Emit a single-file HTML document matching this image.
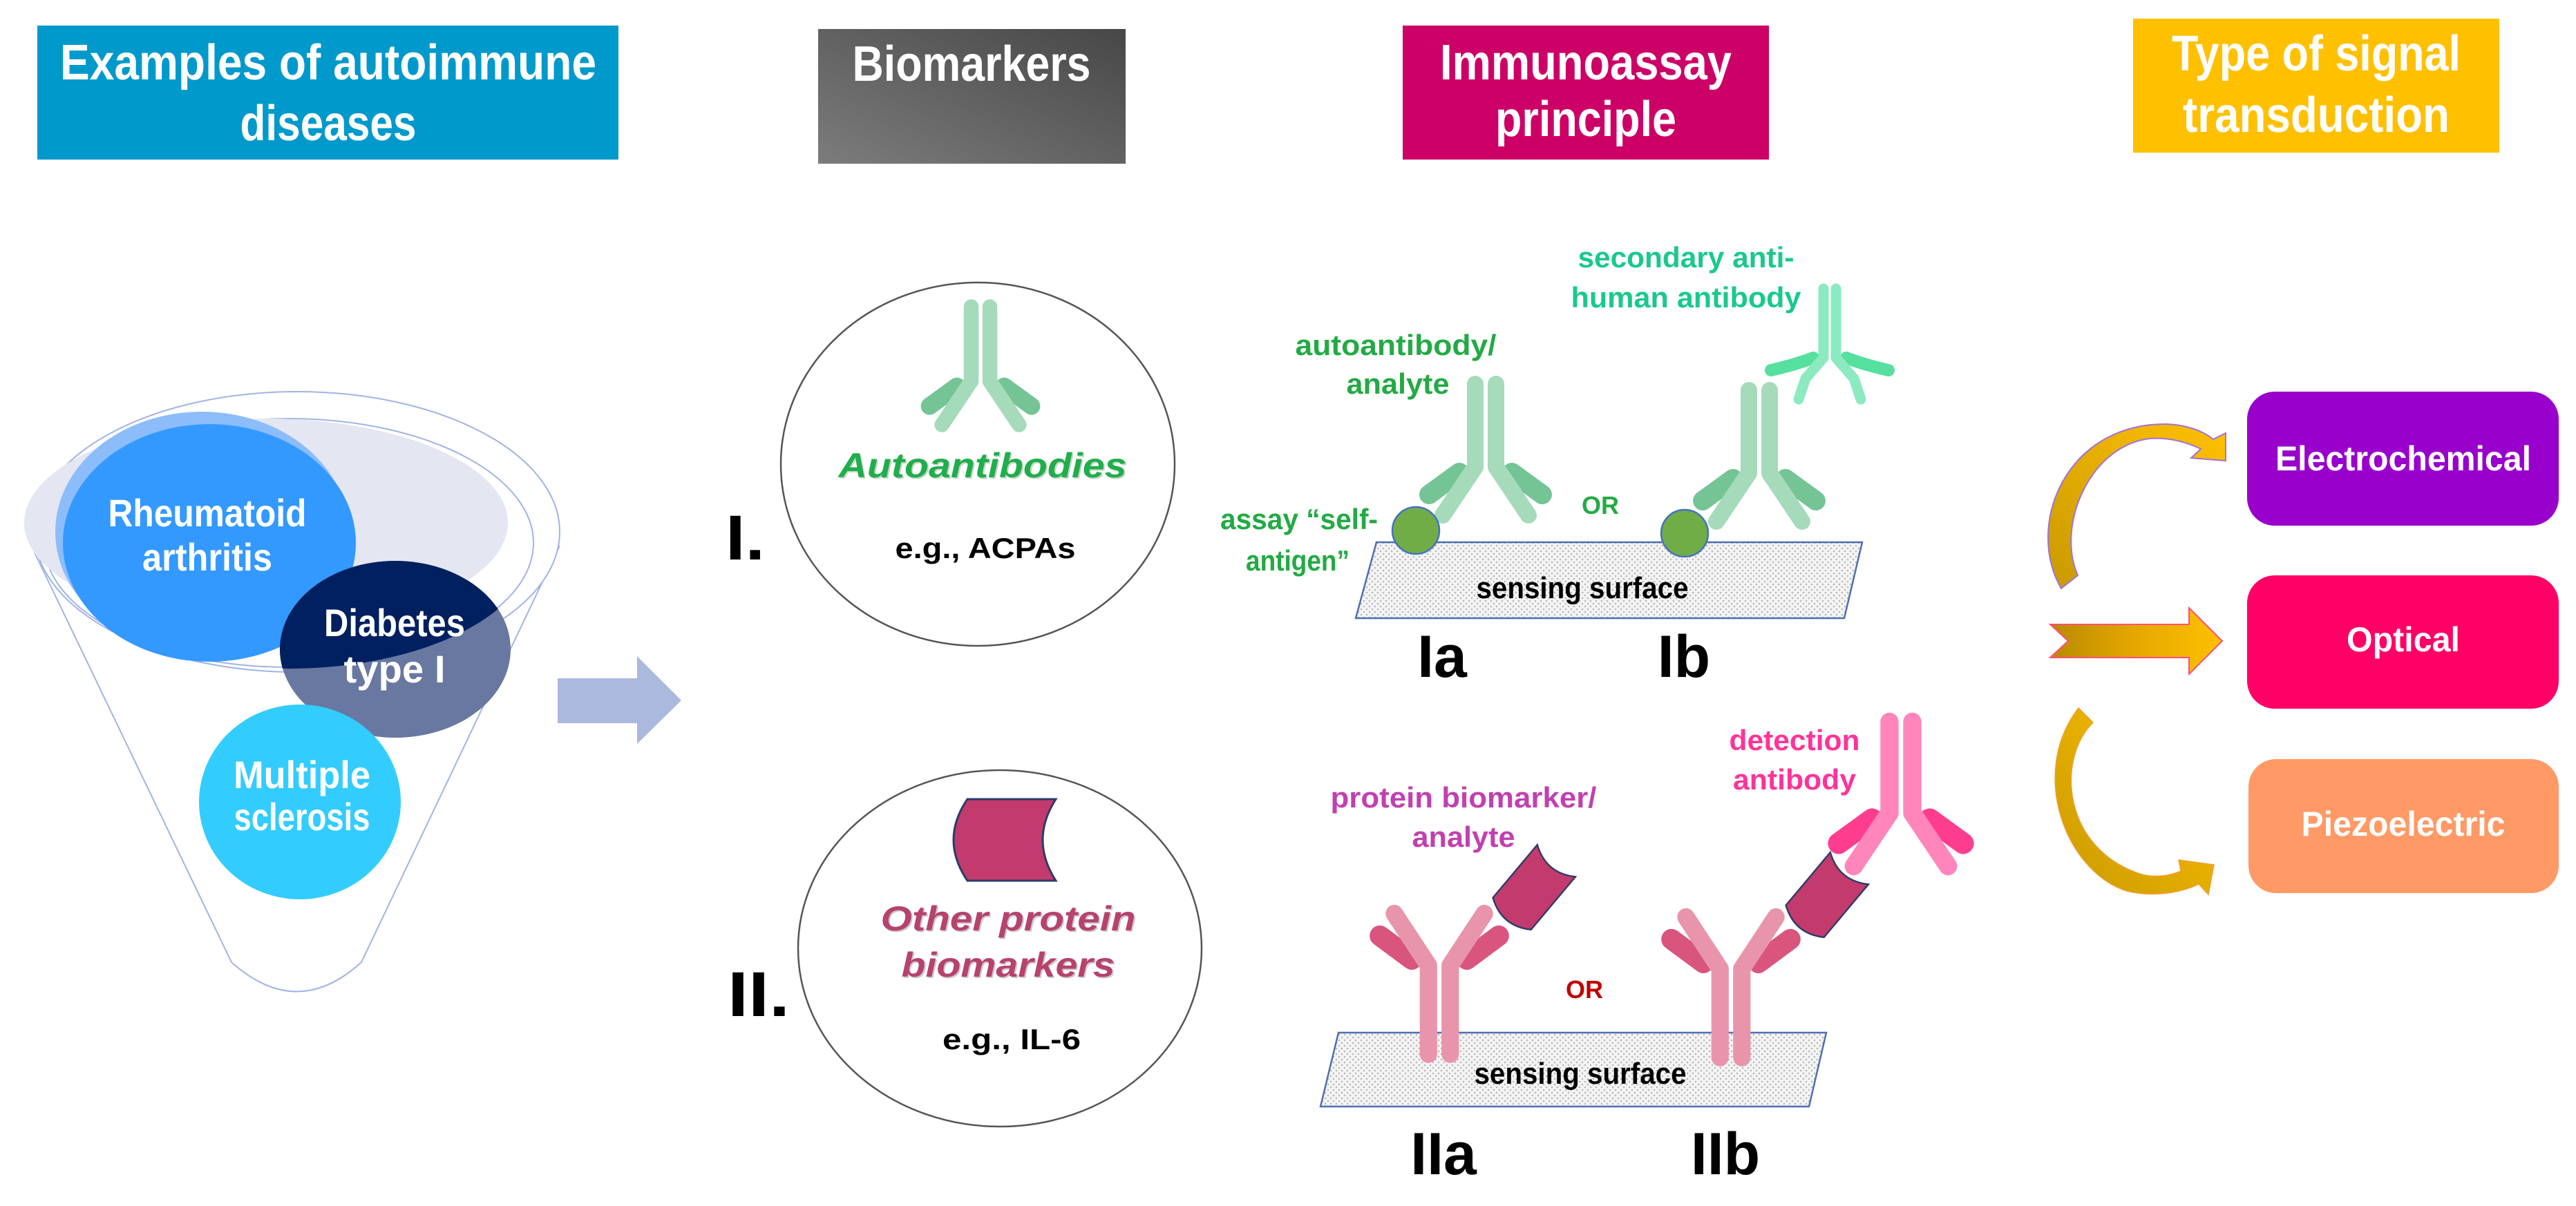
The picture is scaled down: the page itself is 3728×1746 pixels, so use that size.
<!DOCTYPE html>
<html><head><meta charset="utf-8"><style>
html,body{margin:0;padding:0;background:#fff;}
svg{display:block;}
text{font-family:"Liberation Sans",sans-serif;font-weight:bold;}
</style></head><body>
<svg width="3728" height="1746" viewBox="0 0 3728 1746" xmlns="http://www.w3.org/2000/svg">
<defs>
<linearGradient id="gray" x1="0" y1="1" x2="1" y2="0"><stop offset="0" stop-color="#7c7c7c"/><stop offset="1" stop-color="#474747"/></linearGradient>
<linearGradient id="gold" x1="0" y1="0" x2="1" y2="0"><stop offset="0" stop-color="#b88a00"/><stop offset="0.5" stop-color="#e6a800"/><stop offset="1" stop-color="#ffc000"/></linearGradient>
<linearGradient id="goldv" x1="0" y1="1" x2="1" y2="0"><stop offset="0" stop-color="#c99a00"/><stop offset="1" stop-color="#ffc000"/></linearGradient>
<pattern id="dots" width="8" height="8" patternUnits="userSpaceOnUse"><rect width="8" height="8" fill="#f4f4f4"/><circle cx="2" cy="2" r="1.3" fill="#b8b8b8"/><circle cx="6" cy="6" r="1.3" fill="#b8b8b8"/></pattern>
<g id="abInv">
  <path d="M-15 0 L-15 120 L-62 190" fill="none" stroke="VAR" stroke-width="24" stroke-linecap="round"/>
</g>
</defs>

<!-- Headers -->
<rect x="54" y="37" width="841" height="194" fill="#0099cc"/>
<text x="475" y="115" font-size="72" fill="#fff" text-anchor="middle" textLength="776" lengthAdjust="spacingAndGlyphs">Examples of autoimmune</text>
<text x="475" y="203" font-size="72" fill="#fff" text-anchor="middle" textLength="255" lengthAdjust="spacingAndGlyphs">diseases</text>

<rect x="1184" y="42" width="445" height="195" fill="url(#gray)"/>
<text x="1406" y="117" font-size="72" fill="#fff" text-anchor="middle" textLength="345" lengthAdjust="spacingAndGlyphs">Biomarkers</text>

<rect x="2030" y="37" width="530" height="194" fill="#cc0066"/>
<text x="2295" y="115" font-size="72" fill="#fff" text-anchor="middle" textLength="422" lengthAdjust="spacingAndGlyphs">Immunoassay</text>
<text x="2295" y="197" font-size="72" fill="#fff" text-anchor="middle" textLength="262" lengthAdjust="spacingAndGlyphs">principle</text>

<rect x="3087" y="27" width="530" height="194" fill="#ffc000"/>
<text x="3352" y="102" font-size="72" fill="#fff" text-anchor="middle" textLength="418" lengthAdjust="spacingAndGlyphs">Type of signal</text>
<text x="3352" y="191" font-size="72" fill="#fff" text-anchor="middle" textLength="386" lengthAdjust="spacingAndGlyphs">transduction</text>

<!-- Funnel -->
<path d="M50 800 L335 1393 Q430 1478 523 1393 L810 790" fill="none" stroke="#9fb4e6" stroke-width="2"/>
<ellipse cx="430" cy="770" rx="380" ry="203" fill="#fff" stroke="#9fb4e6" stroke-width="2"/>
<ellipse cx="418" cy="786" rx="354" ry="180" fill="none" stroke="#9fb4e6" stroke-width="2"/>
<ellipse cx="385" cy="757" rx="350" ry="151" fill="#e4e6f2"/>
<ellipse cx="292" cy="770" rx="212" ry="174" fill="#8cbdfa"/>
<ellipse cx="303" cy="786" rx="212" ry="172" fill="#3399ff"/>
<clipPath id="dclip"><rect x="0" y="0" width="900" height="1500"/></clipPath>
<ellipse cx="572" cy="940" rx="167" ry="128" fill="#6878a0"/>
<clipPath id="dtop"><ellipse cx="418" cy="786" rx="356" ry="182"/></clipPath>
<ellipse cx="572" cy="940" rx="167" ry="128" fill="#002060" clip-path="url(#dtop)"/>
<ellipse cx="303" cy="786" rx="212" ry="172" fill="#3399ff" clip-path="url(#dtop)" opacity="0"/>
<ellipse cx="434" cy="1161" rx="146" ry="141" fill="#33ccff"/>
<text x="300" y="762" font-size="56" fill="#fff" text-anchor="middle" textLength="287" lengthAdjust="spacingAndGlyphs">Rheumatoid</text>
<text x="300" y="826" font-size="56" fill="#fff" text-anchor="middle" textLength="188" lengthAdjust="spacingAndGlyphs">arthritis</text>
<text x="571" y="921" font-size="56" fill="#fff" text-anchor="middle" textLength="204" lengthAdjust="spacingAndGlyphs">Diabetes</text>
<text x="571" y="988" font-size="56" fill="#fff" text-anchor="middle" textLength="147" lengthAdjust="spacingAndGlyphs">type I</text>
<text x="437" y="1141" font-size="56" fill="#fff" text-anchor="middle" textLength="198" lengthAdjust="spacingAndGlyphs">Multiple</text>
<text x="437" y="1202" font-size="56" fill="#fff" text-anchor="middle" textLength="197" lengthAdjust="spacingAndGlyphs">sclerosis</text>

<!-- big arrow -->
<polygon points="807,982 922,982 922,950 986,1014 922,1077 922,1047 807,1047" fill="#abb9de"/>

<!-- Circle I -->
<ellipse cx="1415" cy="672" rx="285" ry="263" fill="#fff" stroke="#555" stroke-width="2.5"/>
<g transform="translate(1419,444) scale(0.9)">
  <path d="M-38 128 L-82 160" stroke="#74c495" stroke-width="28" stroke-linecap="round"/>
  <path d="M38 128 L82 160" stroke="#74c495" stroke-width="28" stroke-linecap="round"/>
  <path d="M-15 0 L-15 120 L-62 190" fill="none" stroke="#a5dbba" stroke-width="24" stroke-linecap="round" stroke-linejoin="round"/>
  <path d="M15 0 L15 120 L62 190" fill="none" stroke="#a5dbba" stroke-width="24" stroke-linecap="round" stroke-linejoin="round"/>
</g>
<text x="1424" y="693" font-size="50" fill="#9a9" opacity="0.5" font-style="italic" text-anchor="middle" textLength="417" lengthAdjust="spacingAndGlyphs">Autoantibodies</text>
<text x="1422" y="691" font-size="50" fill="#1fae4b" font-style="italic" text-anchor="middle" textLength="417" lengthAdjust="spacingAndGlyphs">Autoantibodies</text>
<text x="1426" y="808" font-size="42" fill="#000" text-anchor="middle" textLength="261" lengthAdjust="spacingAndGlyphs">e.g., ACPAs</text>
<text x="1050" y="810" font-size="92" fill="#000" textLength="57" lengthAdjust="spacingAndGlyphs">I.</text>

<!-- Circle II -->
<ellipse cx="1447" cy="1373" rx="292" ry="258" fill="#fff" stroke="#555" stroke-width="2.5"/>
<path d="M1400 1157 L1528 1157 Q1490 1216 1528 1275 L1400 1275 Q1360 1216 1400 1157 Z" fill="#c23b6c" stroke="#2f3a6a" stroke-width="3"/>
<text x="1461" y="1349" font-size="50" fill="#999" opacity="0.5" font-style="italic" text-anchor="middle" textLength="369" lengthAdjust="spacingAndGlyphs">Other protein</text>
<text x="1459" y="1347" font-size="50" fill="#b6426d" font-style="italic" text-anchor="middle" textLength="369" lengthAdjust="spacingAndGlyphs">Other protein</text>
<text x="1461" y="1416" font-size="50" fill="#999" opacity="0.5" font-style="italic" text-anchor="middle" textLength="309" lengthAdjust="spacingAndGlyphs">biomarkers</text>
<text x="1459" y="1414" font-size="50" fill="#b6426d" font-style="italic" text-anchor="middle" textLength="309" lengthAdjust="spacingAndGlyphs">biomarkers</text>
<text x="1464" y="1519" font-size="42" fill="#000" text-anchor="middle" textLength="200" lengthAdjust="spacingAndGlyphs">e.g., IL-6</text>
<text x="1053" y="1471" font-size="92" fill="#000" textLength="90" lengthAdjust="spacingAndGlyphs">II.</text>

<!-- Sensing surface I -->
<polygon points="1992,785 2695,785 2669,895 1962,895" fill="url(#dots)" stroke="#4f6fb0" stroke-width="2.5"/>
<text x="2290" y="866" font-size="44" fill="#000" text-anchor="middle" textLength="307" lengthAdjust="spacingAndGlyphs">sensing surface</text>
<!-- Ia antibody -->
<g transform="translate(2150,556)">
  <path d="M-38 128 L-82 160" stroke="#74c495" stroke-width="28" stroke-linecap="round"/>
  <path d="M38 128 L82 160" stroke="#74c495" stroke-width="28" stroke-linecap="round"/>
  <path d="M-15 0 L-15 120 L-62 190" fill="none" stroke="#a5dbba" stroke-width="24" stroke-linecap="round" stroke-linejoin="round"/>
  <path d="M15 0 L15 120 L62 190" fill="none" stroke="#a5dbba" stroke-width="24" stroke-linecap="round" stroke-linejoin="round"/>
</g>
<g transform="translate(2546,565)">
  <path d="M-38 128 L-82 160" stroke="#74c495" stroke-width="28" stroke-linecap="round"/>
  <path d="M38 128 L82 160" stroke="#74c495" stroke-width="28" stroke-linecap="round"/>
  <path d="M-15 0 L-15 120 L-62 190" fill="none" stroke="#a5dbba" stroke-width="24" stroke-linecap="round" stroke-linejoin="round"/>
  <path d="M15 0 L15 120 L62 190" fill="none" stroke="#a5dbba" stroke-width="24" stroke-linecap="round" stroke-linejoin="round"/>
</g>
<!-- secondary antibody -->
<g transform="translate(2648,418)">
  <path d="M-24 100 Q-50 110 -85 118" fill="none" stroke="#55e0a0" stroke-width="18" stroke-linecap="round"/>
  <path d="M24 100 Q50 110 85 118" fill="none" stroke="#55e0a0" stroke-width="18" stroke-linecap="round"/>
  <path d="M-9 0 L-9 100 L-35 130 L-45 160" fill="none" stroke="#8ceac0" stroke-width="15" stroke-linecap="round" stroke-linejoin="round"/>
  <path d="M9 0 L9 100 L35 130 L45 160" fill="none" stroke="#8ceac0" stroke-width="15" stroke-linecap="round" stroke-linejoin="round"/>
</g>
<circle cx="2049" cy="768" r="34" fill="#70ad47" stroke="#4472c4" stroke-width="2.5"/>
<circle cx="2438" cy="772" r="34" fill="#70ad47" stroke="#4472c4" stroke-width="2.5"/>

<text x="2020" y="514" font-size="42" fill="#22aa44" text-anchor="middle" textLength="291" lengthAdjust="spacingAndGlyphs">autoantibody/</text>
<text x="2023" y="570" font-size="42" fill="#22aa44" text-anchor="middle" textLength="149" lengthAdjust="spacingAndGlyphs">analyte</text>
<text x="1880" y="766" font-size="42" fill="#22aa44" text-anchor="middle" textLength="228" lengthAdjust="spacingAndGlyphs">assay “self-</text>
<text x="1878" y="826" font-size="42" fill="#22aa44" text-anchor="middle" textLength="150" lengthAdjust="spacingAndGlyphs">antigen”</text>
<text x="2440" y="387" font-size="42" fill="#19c98a" text-anchor="middle" textLength="313" lengthAdjust="spacingAndGlyphs">secondary anti-</text>
<text x="2440" y="445" font-size="42" fill="#19c98a" text-anchor="middle" textLength="333" lengthAdjust="spacingAndGlyphs">human antibody</text>
<text x="2316" y="744" font-size="36" fill="#22aa44" text-anchor="middle">OR</text>
<text x="2087" y="980" font-size="86" fill="#000" text-anchor="middle">Ia</text>
<text x="2437" y="980" font-size="86" fill="#000" text-anchor="middle">Ib</text>

<!-- Sensing surface II -->
<polygon points="1937,1495 2643,1495 2618,1602 1911,1602" fill="url(#dots)" stroke="#4f6fb0" stroke-width="2.5"/>
<text x="2287" y="1569" font-size="44" fill="#000" text-anchor="middle" textLength="307" lengthAdjust="spacingAndGlyphs">sensing surface</text>
<g transform="translate(2083,1526) scale(1.05,-1.07)">
  <path d="M-38 128 L-82 160" stroke="#d9557e" stroke-width="28" stroke-linecap="round"/>
  <path d="M38 128 L82 160" stroke="#d9557e" stroke-width="28" stroke-linecap="round"/>
  <path d="M-15 0 L-15 120 L-62 190" fill="none" stroke="#e895ab" stroke-width="24" stroke-linecap="round" stroke-linejoin="round"/>
  <path d="M15 0 L15 120 L62 190" fill="none" stroke="#e895ab" stroke-width="24" stroke-linecap="round" stroke-linejoin="round"/>
</g>
<g transform="translate(2505,1531) scale(1.05,-1.07)">
  <path d="M-38 128 L-82 160" stroke="#d9557e" stroke-width="28" stroke-linecap="round"/>
  <path d="M38 128 L82 160" stroke="#d9557e" stroke-width="28" stroke-linecap="round"/>
  <path d="M-15 0 L-15 120 L-62 190" fill="none" stroke="#e895ab" stroke-width="24" stroke-linecap="round" stroke-linejoin="round"/>
  <path d="M15 0 L15 120 L62 190" fill="none" stroke="#e895ab" stroke-width="24" stroke-linecap="round" stroke-linejoin="round"/>
</g>
<!-- detection antibody -->
<g transform="translate(2751,1045) scale(1.1)">
  <path d="M-38 128 L-82 160" stroke="#ff3d8e" stroke-width="28" stroke-linecap="round"/>
  <path d="M38 128 L82 160" stroke="#ff3d8e" stroke-width="28" stroke-linecap="round"/>
  <path d="M-15 0 L-15 120 L-62 190" fill="none" stroke="#ff85bb" stroke-width="24" stroke-linecap="round" stroke-linejoin="round"/>
  <path d="M15 0 L15 120 L62 190" fill="none" stroke="#ff85bb" stroke-width="24" stroke-linecap="round" stroke-linejoin="round"/>
</g>
<!-- proteins -->
<g transform="translate(2219,1286) rotate(-50) scale(0.8)">
  <path d="M-60 -45 L65 -45 Q35 0 65 45 L-60 45 Q-90 0 -60 -45 Z" fill="#c23b6c" stroke="#2f3a6a" stroke-width="3"/>
</g>
<g transform="translate(2643,1297) rotate(-50) scale(0.8)">
  <path d="M-60 -45 L65 -45 Q35 0 65 45 L-60 45 Q-90 0 -60 -45 Z" fill="#c23b6c" stroke="#2f3a6a" stroke-width="3"/>
</g>
<text x="2118" y="1169" font-size="42" fill="#c23fb0" text-anchor="middle" textLength="385" lengthAdjust="spacingAndGlyphs">protein biomarker/</text>
<text x="2118" y="1226" font-size="42" fill="#c23fb0" text-anchor="middle" textLength="149" lengthAdjust="spacingAndGlyphs">analyte</text>
<text x="2597" y="1086" font-size="42" fill="#ff3399" text-anchor="middle" textLength="189" lengthAdjust="spacingAndGlyphs">detection</text>
<text x="2597" y="1143" font-size="42" fill="#ff3399" text-anchor="middle" textLength="178" lengthAdjust="spacingAndGlyphs">antibody</text>
<text x="2293" y="1445" font-size="36" fill="#c00000" text-anchor="middle">OR</text>
<text x="2089" y="1700" font-size="86" fill="#000" text-anchor="middle">IIa</text>
<text x="2497" y="1700" font-size="86" fill="#000" text-anchor="middle">IIb</text>

<!-- Signal boxes -->
<rect x="3252" y="567" width="451" height="194" rx="40" fill="#9900cc"/>
<text x="3478" y="681" font-size="50" fill="#fff" text-anchor="middle" textLength="370" lengthAdjust="spacingAndGlyphs">Electrochemical</text>
<rect x="3252" y="833" width="451" height="193" rx="40" fill="#ff0066"/>
<text x="3478" y="943" font-size="50" fill="#fff" text-anchor="middle" textLength="164" lengthAdjust="spacingAndGlyphs">Optical</text>
<rect x="3254" y="1099" width="449" height="194" rx="40" fill="#ff9966"/>
<text x="3478" y="1210" font-size="50" fill="#fff" text-anchor="middle" textLength="295" lengthAdjust="spacingAndGlyphs">Piezoelectric</text>

<!-- arrows -->
<path d="M2983 852 C2930 760 2990 612 3136 614 C3165 615 3188 624 3203 636 L3221 627 L3221 667 L3171 663 L3185 650 C3162 639 3138 633 3111 635 C3025 645 2975 760 3007 833 Z" fill="url(#goldv)" stroke="#a070e0" stroke-width="2"/>
<polygon points="2967,904 3168,904 3168,880 3216,928 3168,976 3168,952 2967,952 2993,928" fill="url(#gold)" stroke="#ff4f7a" stroke-width="2"/>
<path d="M3008 1025 L3029 1046 C2975 1100 2985 1230 3100 1266 C3120 1271 3140 1268 3156 1261 L3153 1245 L3204 1252 L3196 1295 L3182 1280 C3150 1295 3110 1298 3078 1290 C2990 1262 2935 1120 3008 1025 Z" fill="url(#goldv)" stroke="#f0a030" stroke-width="1.5"/>
</svg>
</body></html>
